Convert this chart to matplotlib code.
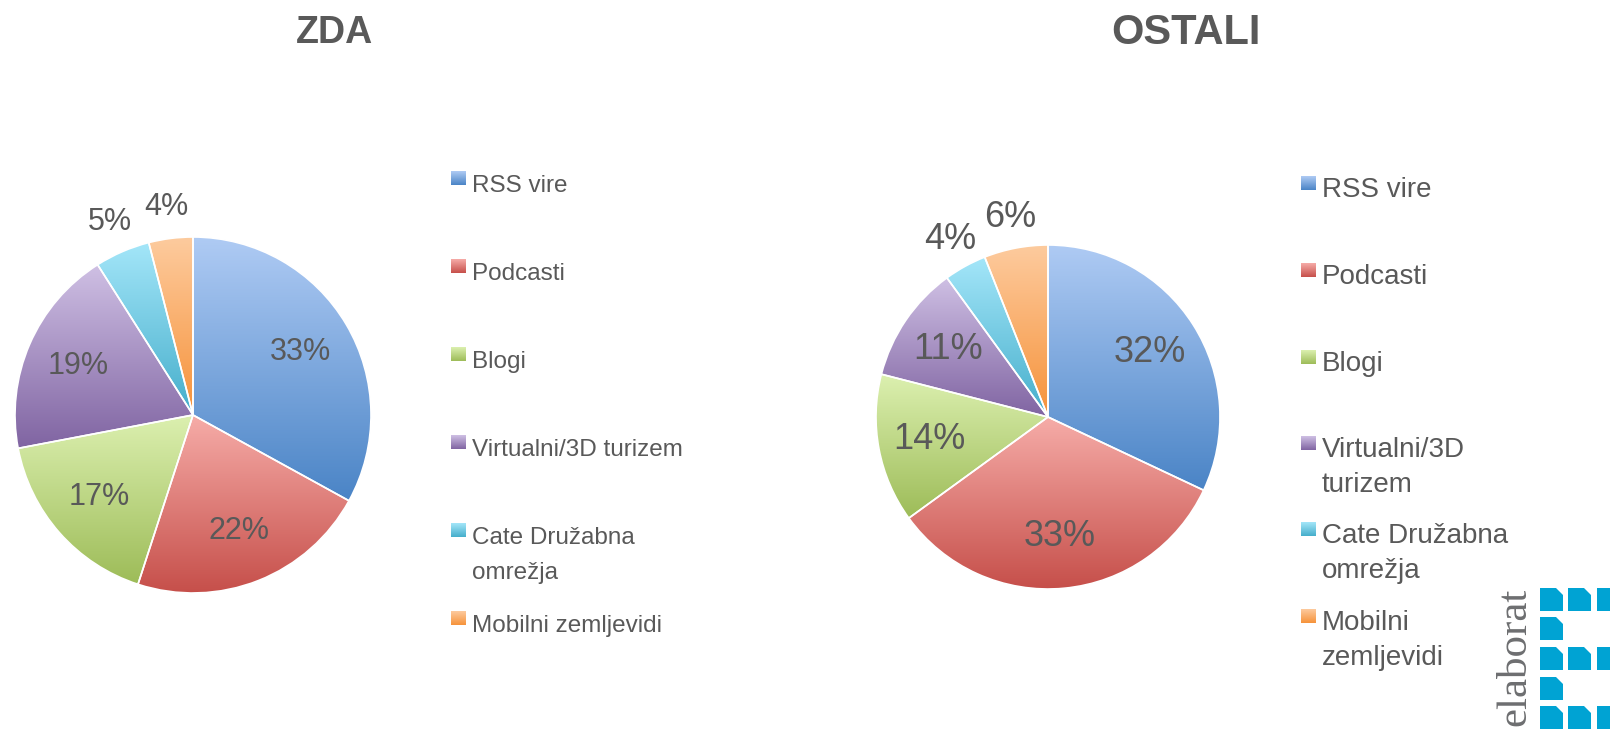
import matplotlib.pyplot as plt
import numpy as np
from matplotlib.colors import LinearSegmentedColormap
from matplotlib.patches import Polygon

categories = ['RSS vire', 'Podcasti', 'Blogi', 'Virtualni/3D turizem',
              'Cate Družabna omrežja', 'Mobilni zemljevidi']
zda = [33, 22, 17, 19, 5, 4]
ostali = [32, 33, 14, 11, 4, 6]

# legend text as it wraps in each chart
leg_zda = ['RSS vire', 'Podcasti', 'Blogi', 'Virtualni/3D turizem',
           'Cate Družabna\nomrežja', 'Mobilni zemljevidi']
leg_ostali = ['RSS vire', 'Podcasti', 'Blogi', 'Virtualni/3D\nturizem',
              'Cate Družabna\nomrežja', 'Mobilni\nzemljevidi']

# (top, bottom) gradient colours per slice
grads = [('#afcbf4', '#4a84c6'),
         ('#f6aca8', '#c64f4a'),
         ('#dcf0b0', '#9dbc58'),
         ('#cfc0e4', '#8064a2'),
         ('#a4e6f9', '#45aecb'),
         ('#fdcb9e', '#f6923a')]

GRAY = '#595959'
FAM = ['Liberation Sans', 'DejaVu Sans']

W, H = 1610, 731
fig = plt.figure(figsize=(W / 100, H / 100), dpi=100)

ov = fig.add_axes([0, 0, 1, 1])
ov.axis('off')


def vgrad(ax, extent, c1, c2, clip=None, z=1):
    cmap = LinearSegmentedColormap.from_list('g', [c1, c2])
    img = np.linspace(0, 1, 256).reshape(-1, 1)
    im = ax.imshow(img, cmap=cmap, extent=extent, origin='upper',
                   aspect='auto', interpolation='bilinear', zorder=z)
    if clip is not None:
        im.set_clip_path(clip)
    return im


def draw_pie(cx, cy, r, vals, pctsize):
    lim = 1.02
    size = 2 * lim * r
    ax = fig.add_axes([(cx - size / 2) / W, (H - cy - size / 2) / H,
                       size / W, size / H])
    wedges, _ = ax.pie(vals, startangle=90, counterclock=False, radius=1,
                       wedgeprops=dict(edgecolor='white', linewidth=1.2))
    for w, (c1, c2), v in zip(wedges, grads, vals):
        w.set_facecolor('none')
        w.set_zorder(3)
        bb = w.get_path().get_extents()
        vgrad(ax, (bb.x0, bb.x1, bb.y0, bb.y1), c1, c2, clip=w, z=2)
        mid = np.deg2rad((w.theta1 + w.theta2) / 2)
        d = 0.7 if v >= 8 else 1.18
        ax.text(d * np.cos(mid), d * np.sin(mid), f'{v}%', ha='center',
                va='center', fontsize=pctsize, color=GRAY, family=FAM,
                zorder=5)
    ax.set_xlim(-lim, lim)
    ax.set_ylim(-lim, lim)
    ax.set_aspect('equal')
    ax.axis('off')
    return ax


def draw_legend(x, ys, labels, fsize):
    for y, lab, (c1, c2) in zip(ys, labels, grads):
        vgrad(ov, (x, x + 15, y + 7, y - 7), c1, c2, z=2)
        for k, line in enumerate(lab.split('\n')):
            ov.text(x + 21, y + 14 + 35 * k, line, ha='left', va='baseline',
                    fontsize=fsize, color=GRAY, family=FAM)


draw_pie(193, 415, 178, zda, 22)
draw_pie(1048, 417, 172, ostali, 26)

ov.text(334, 33, 'ZDA', ha='center', va='center', fontsize=27,
        fontweight='bold', color=GRAY, family=FAM)
ov.text(1186, 33, 'OSTALI', ha='center', va='center', fontsize=30,
        fontweight='bold', color=GRAY, family=FAM)

draw_legend(451, [178, 266, 354, 442, 530, 618], leg_zda, 17.5)
draw_legend(1301, [183, 270, 357, 443, 529, 616], leg_ostali, 20)

# elaborat logo
ov.text(1515, 657, 'elaborat', rotation=90, ha='center', va='center',
        fontsize=31, color='#6d6e70', family='Liberation Serif')
cols = [1540, 1568, 1597]
rows = [588, 617, 647, 677, 706]
pattern = [3, 1, 3, 1, 3]
s, c = 23, 7
for yy, n in zip(rows, pattern):
    for xx in cols[:n]:
        pts = [(xx, yy), (xx + s - c, yy), (xx + s, yy + c),
               (xx + s, yy + s), (xx, yy + s)]
        ov.add_patch(Polygon(pts, closed=True, facecolor='#00a3d3',
                             edgecolor='none'))

ov.set_xlim(0, W)
ov.set_ylim(H, 0)

fig.savefig('out.png', dpi=100)
